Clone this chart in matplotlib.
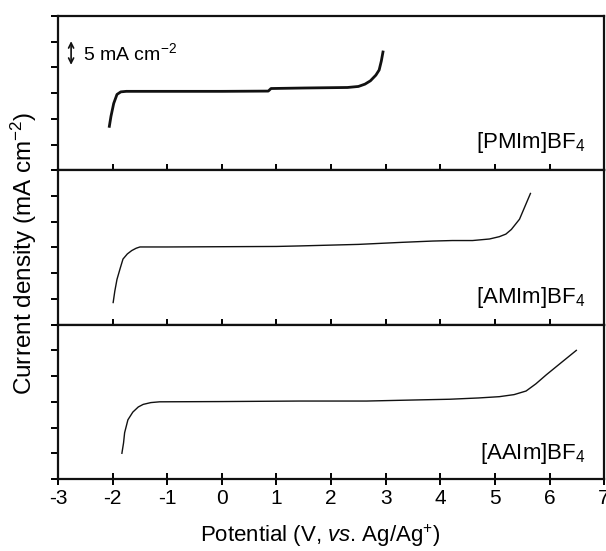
import matplotlib.pyplot as plt
import numpy as np

plt.rcParams['font.family'] = ['Liberation Sans', 'DejaVu Sans']
plt.rcParams['mathtext.fontset'] = 'custom'
plt.rcParams['mathtext.rm'] = 'Liberation Sans'
plt.rcParams['mathtext.it'] = 'Liberation Sans:italic'
plt.rcParams['mathtext.default'] = 'regular'

# potential (V) and current (in tick units, 1 unit = 5 mA cm-2)
pmim_x = [-2.06, -2.03, -1.98, -1.92, -1.85, -1.75, -1.5, 0.0, 0.85, 0.9, 1.5, 2.3, 2.5, 2.62, 2.72, 2.82, 2.88, 2.92, 2.95]
pmim_y = [1.71, 2.1, 2.6, 2.95, 3.05, 3.07, 3.07, 3.07, 3.08, 3.18, 3.2, 3.22, 3.26, 3.35, 3.48, 3.7, 3.9, 4.25, 4.6]

amim_x = [-1.99, -1.96, -1.92, -1.86, -1.81, -1.73, -1.65, -1.57, -1.5, -1.0, 0.0, 1.0, 1.42, 2.5, 3.3, 3.86, 4.22, 4.59, 4.9, 5.08, 5.2, 5.3, 5.45, 5.55, 5.65]
amim_y = [0.86, 1.3, 1.76, 2.2, 2.55, 2.75, 2.88, 2.97, 3.02, 3.02, 3.03, 3.04, 3.06, 3.12, 3.2, 3.25, 3.27, 3.27, 3.33, 3.42, 3.52, 3.7, 4.1, 4.6, 5.1]

aaim_x = [-1.83, -1.8, -1.78, -1.72, -1.63, -1.53, -1.44, -1.3, -1.14, 0.0, 1.42, 2.65, 3.5, 4.17, 4.7, 5.08, 5.35, 5.57, 5.75, 5.94, 6.2, 6.49]
aaim_y = [1.0, 1.4, 1.8, 2.3, 2.6, 2.8, 2.9, 2.97, 3.0, 3.01, 3.03, 3.03, 3.07, 3.1, 3.15, 3.2, 3.28, 3.42, 3.7, 4.05, 4.5, 5.0]

labels = ['[PMIm]BF$_4$', '[AMIm]BF$_4$', '[AAIm]BF$_4$']
curves = [(pmim_x, pmim_y, 2.0), (amim_x, amim_y, 1.0), (aaim_x, aaim_y, 1.0)]
label_y = [1.1, 1.05, 1.0]

fig, axes = plt.subplots(3, 1, figsize=(6.06, 5.51), dpi=100, sharex=True)
fig.subplots_adjust(left=0.0957, right=0.997, top=0.971, bottom=0.1307, hspace=0)

for i, ax in enumerate(axes):
    cx, cy, lw = curves[i]
    ax.plot(cx, cy, color='#111111', lw=lw)
    ax.set_xlim(-3, 7)
    ax.set_ylim(0, 6)
    ax.set_yticks(np.arange(0, 7, 1))
    ax.set_yticklabels([])
    ax.set_xticks(np.arange(-3, 8, 1))
    for s in ax.spines.values():
        s.set_linewidth(1.6)
        s.set_color('#111111')
    ax.tick_params(axis='y', direction='out', length=5, width=1.4, left=True, right=False)
    ax.tick_params(axis='x', direction='inout', length=9, width=1.4, top=False, bottom=True)
    ax.text(6.66, label_y[i], labels[i], ha='right', va='center', fontsize=16)
    if i < 2:
        ax.tick_params(axis='x', labelbottom=False)

axes[2].set_xticklabels(['-3', '-2', '-1', '0', '1', '2', '3', '4', '5', '6', '7'], fontsize=15)
axes[2].tick_params(axis='x', pad=3)

axes[0].annotate('', xy=(-2.76, 4.1), xytext=(-2.76, 5.02),
                 arrowprops=dict(arrowstyle='<->', color='#111111', lw=1.2, shrinkA=0, shrinkB=0,
                                 mutation_scale=9))
axes[0].text(-2.55, 4.55, '5 mA cm$^{-2}$', ha='left', va='center', fontsize=14)

fig.text(0.04, 0.54, 'Current density (mA cm$^{-2}$)', rotation=90, ha='center', va='center', fontsize=17.5)
fig.text(0.528, 0.027, 'Potential (V, $\\mathit{vs}$. Ag/Ag$^{+}$)', ha='center', va='center', fontsize=16)

fig.savefig('out.png', dpi=100)
